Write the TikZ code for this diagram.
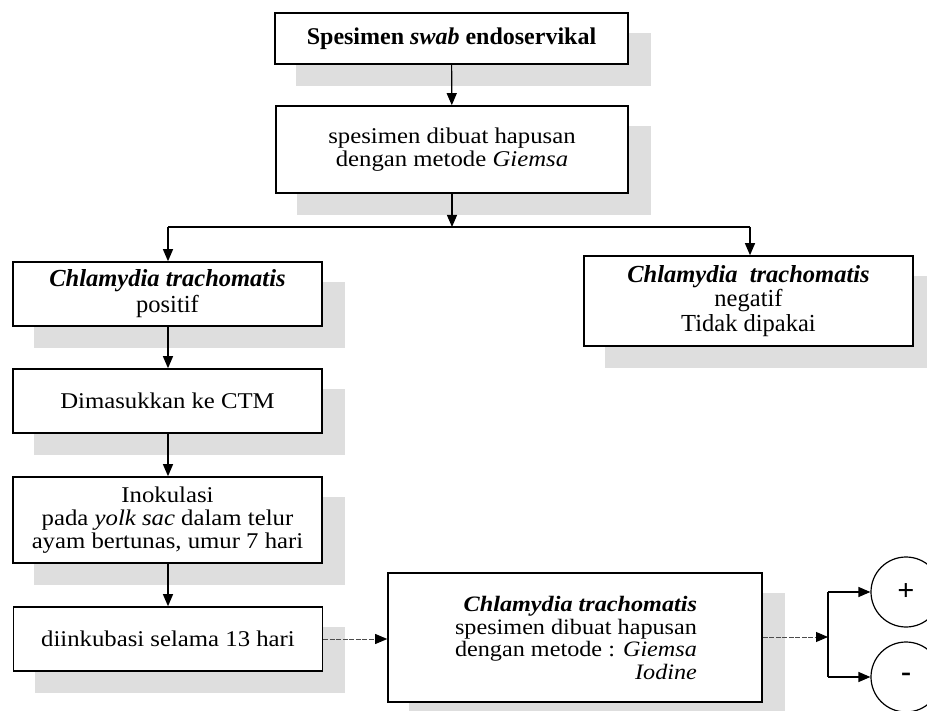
\documentclass[tikz,border=0pt]{standalone}
\usepackage{fontspec}
\setmainfont{Liberation Serif}
\newfontfamily\widefont[FakeStretch=1.1]{Liberation Serif}
\usetikzlibrary{arrows.meta,backgrounds,calc}
\begin{document}
\begin{tikzpicture}[x=1pt,y=-1pt,
  box/.style={draw,line width=1.6pt,fill=white,inner sep=0pt,align=center},
  wtext/.style={font=\widefont\fontsize{22.5}{23}\selectfont},
  ttext/.style={font=\fontsize{24.5}{26}\selectfont},
  conn/.style={line width=1.2pt,-{Triangle[length=12pt,width=10pt]}},
  faint/.style={line width=0.9pt,black!70,dash pattern=on 5pt off 1.5pt,-{Triangle[length=12pt,width=10pt,black]}},
  plain/.style={line width=1.2pt},
  res/.style={draw,circle,line width=1.2pt,minimum size=70pt,inner sep=0pt,font=\bfseries\fontsize{30}{30}\selectfont},
  shadowc/.style={fill=black!13}]
\useasboundingbox (0,0) rectangle (927,711);
\node[box,minimum width=353pt,minimum height=51pt,font=\bfseries\fontsize{24}{25}\selectfont] (b1) at (451.5,38.5) {Spesimen \textit{swab} endoservikal};
\node[box,wtext,minimum width=352pt,minimum height=87pt] (b2) at (452,149.5) {spesimen dibuat hapusan\\dengan metode \textit{Giemsa}};
\node[box,ttext,minimum width=309pt,minimum height=64pt] (b3) at (167.5,294) {\textbf{\textit{Chlamydia trachomatis}}\\positif};
\node[box,font=\fontsize{24.5}{24.5}\selectfont,minimum width=329pt,minimum height=90pt] (bn) at (748.5,301) {\textbf{\textit{Chlamydia\ \ trachomatis}}\\negatif\\Tidak dipakai};
\node[box,wtext,minimum width=309pt,minimum height=64pt] (b4) at (167.5,401) {Dimasukkan ke CTM};
\node[box,wtext,minimum width=309pt,minimum height=86pt] (b5) at (167.5,520) {Inokulasi\\pada \textit{yolk sac} dalam telur\\ayam bertunas, umur 7 hari};
\node[box,wtext,minimum width=309pt,minimum height=64pt] (b6) at (168,639) {diinkubasi selama 13 hari};
\node[box,minimum width=374pt,minimum height=129pt] (b7) at (575,637.5) {};
\node[align=right,font=\widefont\fontsize{22}{22.5}\selectfont] (t7) at (576,638) {\textbf{\textit{Chlamydia trachomatis}}\\spesimen dibuat hapusan\\dengan metode : \textit{Giemsa}\\\textit{Iodine}};
\node[res] (cp) at (906,592) {+};
\node[res] (cm) at (906,677) {-};
\coordinate (jL) at (168,227);
\coordinate (jM) at (452,227);
\coordinate (jR) at (750,227);
\coordinate (br) at (828,637);
\coordinate (brT) at (828,592);
\coordinate (brB) at (828,677);
\begin{pgfonlayer}{background}
\foreach \n in {b1,b2,b3,bn,b4,b5,b6,b7}
  \fill[shadowc] ($(\n.south west)+(22,21)$) rectangle ($(\n.north east)+(22,21)$);
\end{pgfonlayer}
\draw[conn] (b1) -- (b2);
\draw[conn] (b2) -- (jM);
\draw[plain] (jL) -- (jR);
\draw[conn] (jL) -- (b3.north -| jL);
\draw[conn] (jR) -- (bn.north -| jR);
\draw[conn] (b3.south -| jL) -- (b4.north -| jL);
\draw[conn] (b4.south -| jL) -- (b5.north -| jL);
\draw[conn] (b5.south -| jL) -- (b6.north -| jL);
\draw[faint] (b6.east) -- (b7.west |- b6.east);
\draw[faint] (b7.east |- br) -- (br);
\draw[plain] (brT) -- (brB);
\draw[conn] (brT) -- (cp.west);
\draw[conn] (brB) -- (cm.west);
\end{tikzpicture}
\end{document}
